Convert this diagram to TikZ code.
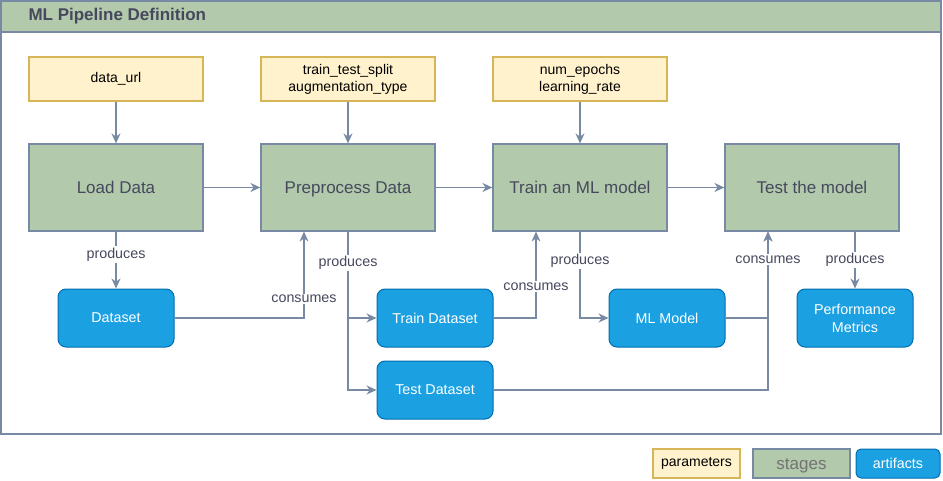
\documentclass[tikz,border=0pt]{standalone}
\usepackage{fontspec}
\setmainfont{Liberation Sans}
\usetikzlibrary{arrows.meta}

\definecolor{paramfill}{HTML}{FFF2CC}
\definecolor{paramline}{HTML}{D6B656}
\definecolor{stagefill}{HTML}{B2C9AB}
\definecolor{stageline}{HTML}{788AA3}
\definecolor{artfill}{HTML}{1BA1E2}
\definecolor{artline}{HTML}{006EAF}
\definecolor{stagetext}{HTML}{46495D}

\begin{document}
\begin{tikzpicture}[x=1pt, y=-1pt,
      param/.style={draw=paramline, fill=paramfill, line width=1.2pt, minimum width=174pt, minimum height=44pt, align=center, font=\fontsize{14}{17}\selectfont},
      stage/.style={draw=stageline, fill=stagefill, line width=1.2pt, minimum width=174pt, minimum height=87pt, text height=13pt, text depth=1.4pt, text=stagetext, font=\fontsize{17}{20}\selectfont},
      artifact/.style={draw=artline, fill=artfill, line width=1pt, rounded corners=8pt, minimum width=116pt, minimum height=58pt, align=center, text=white, font=\fontsize{14.3}{18}\selectfont},
      conn/.style={draw=stageline, line width=1.2pt, -{Stealth[length=10pt, width=9pt]}},
      lbl/.style={fill=white, inner sep=1.5pt, text=stagetext, font=\fontsize{14.3}{17}\selectfont}]
      \useasboundingbox (0,0) rectangle (943,480);

      % frame and header
      \draw[stageline, line width=1.2pt] (1,1) rectangle (941,434);
      \draw[stageline, fill=stagefill, line width=1.2pt] (1,1) rectangle (941,32);
      \node[anchor=west, text=stagetext, font=\fontsize{17}{20}\selectfont\bfseries] (title) at (25,16) {ML Pipeline Definition};

      % parameters
      \node[param] (url) at (116,79) {data\_url};
      \node[param] (split) at (348,79) {train\_test\_split\\augmentation\_type};
      \node[param] (epochs) at (580,79) {num\_epochs\\learning\_rate};

      % stages
      \node[stage] (load) at (116,187.5) {Load Data};
      \node[stage] (prep) at (348,187.5) {Preprocess Data};
      \node[stage] (train) at (580,187.5) {Train an ML model};
      \node[stage] (test) at (812,187.5) {Test the model};

      % artifacts
      \node[artifact] (dataset) at (116,318) {Dataset};
      \node[artifact] (traindata) at (435,318) {Train Dataset};
      \node[artifact] (model) at (667,318) {ML Model};
      \node[artifact] (metrics) at (855,318) {Performance\\Metrics};
      \node[artifact] (testdata) at (435,390) {Test Dataset};

      % connectors
      \draw[conn] (url) -- (load);
      \draw[conn] (split) -- (prep);
      \draw[conn] (epochs) -- (train);
      \draw[conn] (load) -- (prep);
      \draw[conn] (prep) -- (train);
      \draw[conn] (train) -- (test);

      \draw[conn] (load) -- node[lbl, pos=0.4]{produces} (dataset);
      \draw[conn] (dataset) -| node[lbl, pos=0.61]{consumes} ([xshift=-44pt]prep.south);
      \draw[conn] (prep.south) |- (testdata);
      \draw[conn] (prep.south) |- node[lbl, pos=0.18]{produces} (traindata);
      \draw[conn] (traindata) -| node[lbl, pos=0.68]{consumes} ([xshift=-44pt]train.south);
      \draw[conn] (train.south) |- node[lbl, pos=0.17]{produces} (model);
      \draw[conn] (testdata) -| ([xshift=-44pt]test.south);
      \draw[conn] (model) -| node[lbl, pos=0.84]{consumes} ([xshift=-44pt]test.south);
      \draw[conn] (test.south -| metrics) -- node[lbl]{produces} (metrics);

      % legend
      \node[param, minimum width=87pt, minimum height=29pt] (legparam) at (696.5,463.5) {parameters};
      \node[stage, minimum width=97pt, minimum height=29pt, text=gray!90!black] (legstage) at (801.5,463.5) {stages};
      \node[artifact, minimum width=84pt, minimum height=29pt, rounded corners=5pt] (legart) at (898,463.5) {artifacts};
\end{tikzpicture}
\end{document}
